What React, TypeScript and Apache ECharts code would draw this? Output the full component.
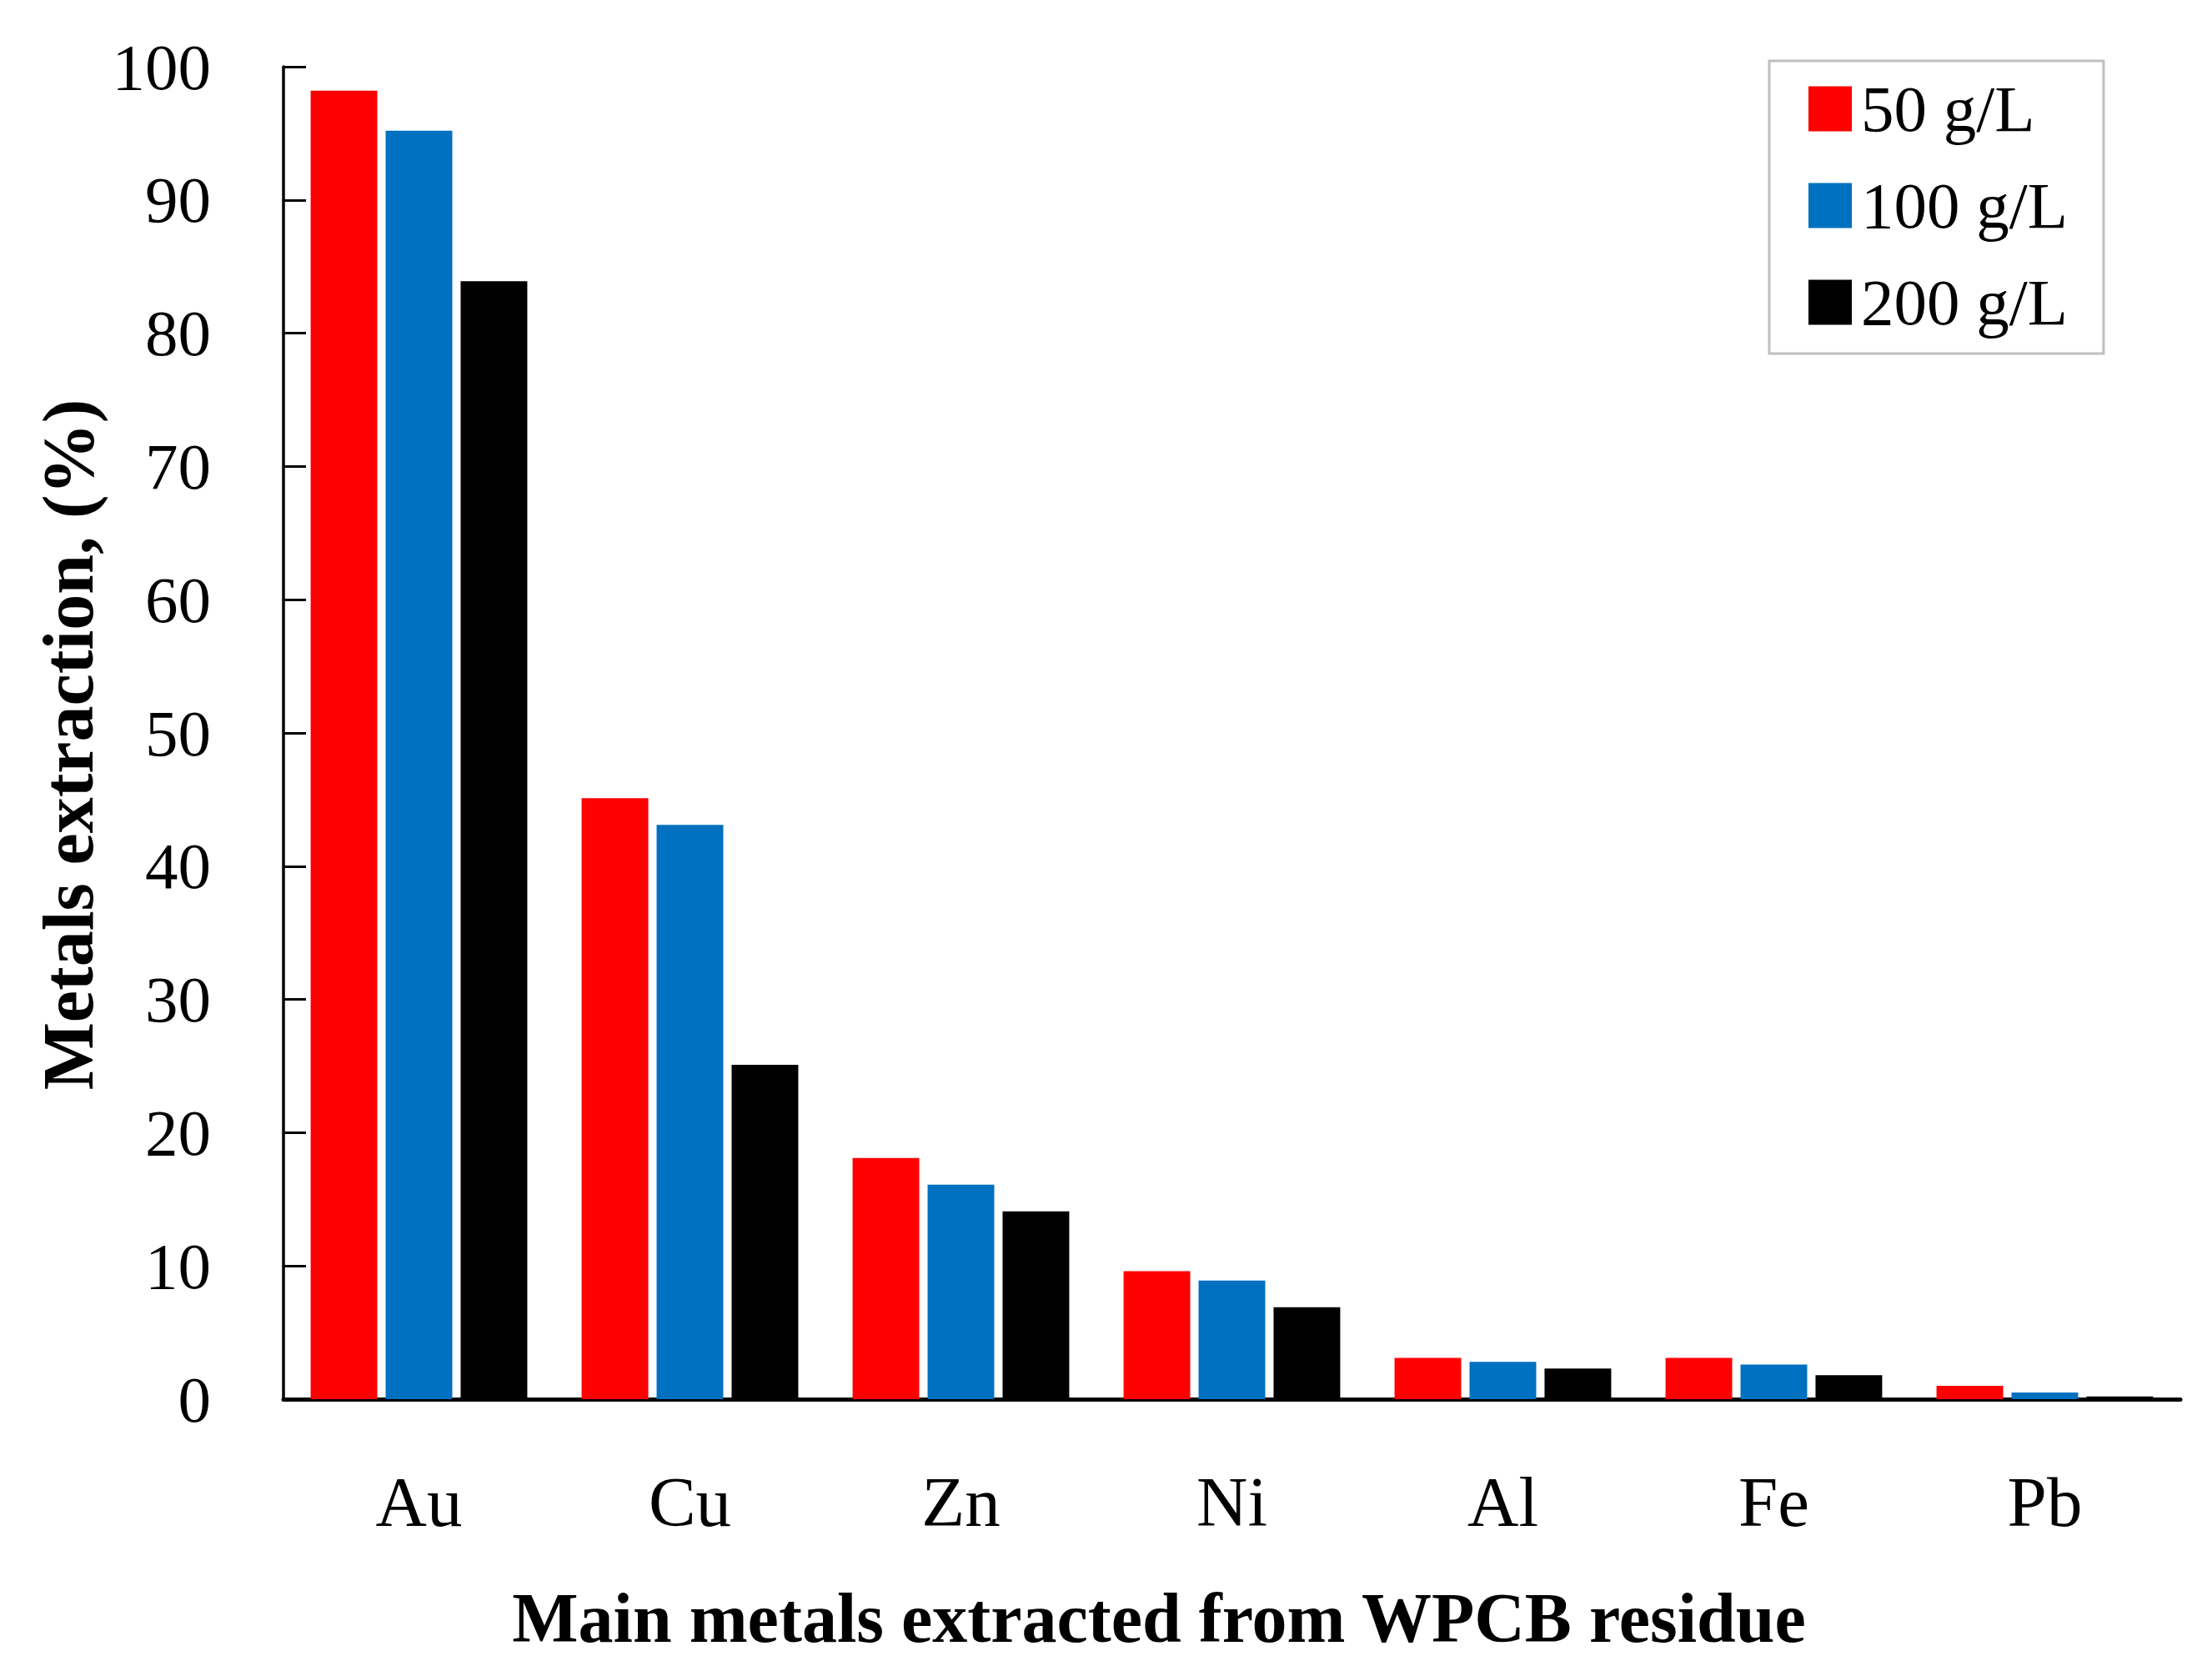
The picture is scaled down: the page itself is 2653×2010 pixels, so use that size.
import { useEffect, useRef } from 'react';
import * as echarts from 'echarts';

const metals = ['Au', 'Cu', 'Zn', 'Ni', 'Al', 'Fe', 'Pb'];
const conc50 = [98.2, 45.1, 18.1, 9.6, 3.1, 3.1, 1.0];
const conc100 = [95.2, 43.1, 16.1, 8.9, 2.8, 2.6, 0.5];
const conc200 = [83.9, 25.1, 14.1, 6.9, 2.3, 1.8, 0.2];
const seriesNames = ['50 g/L', '100 g/L', '200 g/L'];
const seriesColors = ['#ff0000', '#0070c0', '#000000'];

const FONT = '"Liberation Serif", "Times New Roman", serif';

export default function App() {
  const ref = useRef<HTMLDivElement | null>(null);

  useEffect(() => {
    if (!ref.current) return undefined;
    const chart = echarts.init(ref.current, null, { renderer: 'svg' });
    const values = [conc50, conc100, conc200];

    chart.setOption({
      animation: false,
      backgroundColor: '#ffffff',
      textStyle: { fontFamily: FONT },
      grid: { left: 340, right: 38, top: 80, bottom: 332 },
      legend: {
        orient: 'vertical',
        left: 2122,
        top: 73,
        padding: [18, 43, 22, 47],
        itemGap: 37,
        itemWidth: 52,
        itemHeight: 54,
        borderColor: '#bfbfbf',
        borderWidth: 3,
        icon: 'rect',
        data: seriesNames,
        textStyle: { fontFamily: FONT, fontSize: 79, color: '#000', padding: [0, 0, 0, 6] }
      },
      xAxis: {
        type: 'category',
        data: metals,
        axisLine: { lineStyle: { color: '#000', width: 5 } },
        axisTick: { inside: true, length: 27, interval: 0, lineStyle: { color: '#000', width: 3 } },
        axisLabel: { fontFamily: FONT, fontSize: 85, color: '#000', margin: 80 },
        splitLine: { show: false }
      },
      yAxis: {
        type: 'value',
        min: 0,
        max: 100,
        interval: 10,
        axisLine: { show: true, lineStyle: { color: '#000', width: 3.5 } },
        axisTick: { show: true, inside: true, length: 27, lineStyle: { color: '#000', width: 3 } },
        axisLabel: { fontFamily: FONT, fontSize: 79, color: '#000', margin: 87 },
        splitLine: { show: false }
      },
      graphic: [
        {
          type: 'text',
          x: 1390,
          y: 1940,
          style: {
            text: 'Main metals extracted from WPCB residue',
            font: `bold 84px ${FONT}`,
            fill: '#000',
            textAlign: 'center',
            textVerticalAlign: 'middle'
          }
        },
        {
          type: 'text',
          x: 82,
          y: 893,
          rotation: Math.PI / 2,
          style: {
            text: 'Metals extraction, (%)',
            font: `bold 86px ${FONT}`,
            fill: '#000',
            textAlign: 'center',
            textVerticalAlign: 'middle'
          }
        }
      ],
      series: seriesNames.map((name, i) => ({
        name,
        type: 'bar',
        data: values[i],
        barWidth: '24.6%',
        barGap: '12.5%',
        itemStyle: { color: seriesColors[i] }
      }))
    });

    return () => chart.dispose();
  }, []);

  return (
    <div
      ref={ref}
      style={{ position: 'fixed', left: 0, top: 0, width: 2653, height: 2010 }}
    />
  );
}
